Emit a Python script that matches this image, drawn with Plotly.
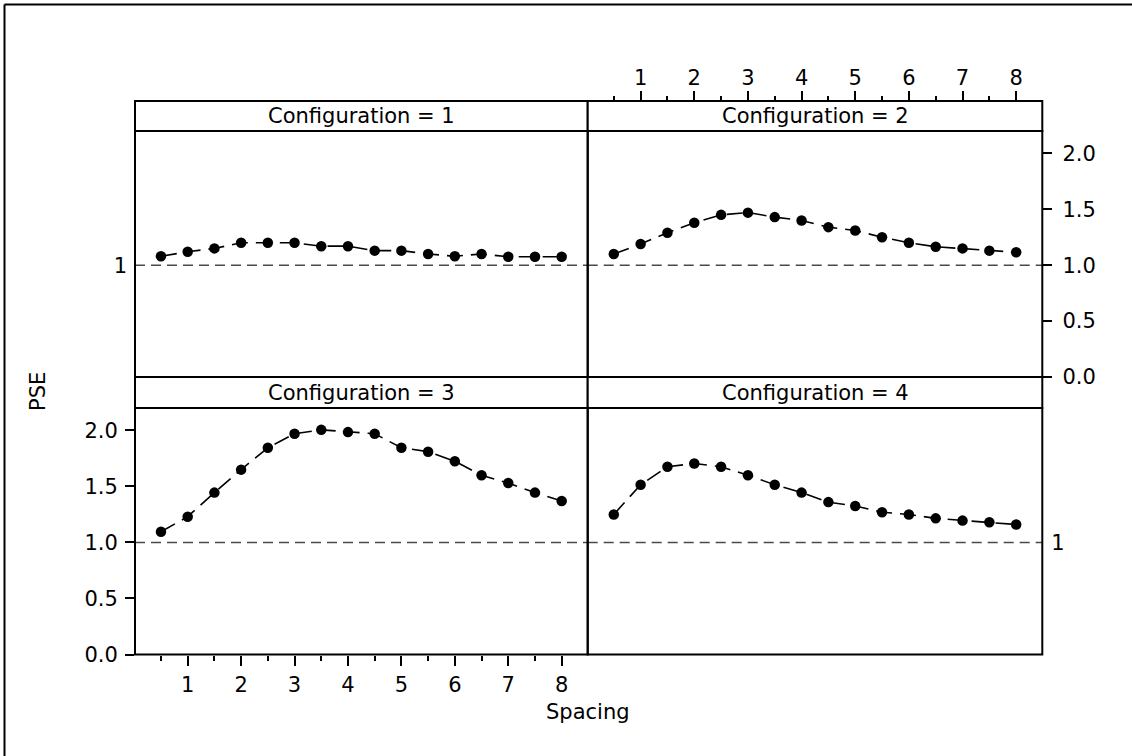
import plotly.graph_objects as go

# ---------------- data ----------------
SPACING = [0.5, 1.0, 1.5, 2.0, 2.5, 3.0, 3.5, 4.0, 4.5, 5.0, 5.5, 6.0, 6.5, 7.0, 7.5, 8.0]
PSE_CONFIG_1 = [1.08, 1.12, 1.15, 1.20, 1.20, 1.20, 1.17, 1.17, 1.13, 1.13, 1.10, 1.08, 1.10, 1.075, 1.075, 1.075]
PSE_CONFIG_2 = [1.10, 1.19, 1.29, 1.38, 1.45, 1.47, 1.43, 1.40, 1.34, 1.31, 1.25, 1.20, 1.165, 1.15, 1.13, 1.115]
PSE_CONFIG_3 = [1.095, 1.23, 1.445, 1.65, 1.845, 1.97, 2.005, 1.985, 1.97, 1.845, 1.81, 1.725, 1.60, 1.53, 1.445, 1.37]
PSE_CONFIG_4 = [1.25, 1.515, 1.675, 1.705, 1.675, 1.60, 1.515, 1.445, 1.36, 1.325, 1.27, 1.25, 1.215, 1.195, 1.18, 1.16]
STRIP_LABELS = ["Configuration = 1", "Configuration = 2", "Configuration = 3", "Configuration = 4"]
X_TICKS = [1, 2, 3, 4, 5, 6, 7, 8]
X_MINOR_TICKS = [0.5, 1.5, 2.5, 3.5, 4.5, 5.5, 6.5, 7.5, 8.5]
Y_TICKS = [0.0, 0.5, 1.0, 1.5, 2.0]
Y_TICK_TEXT = ["0.0", "0.5", "1.0", "1.5", "2.0"]
REF_LEVEL = 1.0
X_RANGE = [0.0137, 8.487]
Y_RANGE = [0.0, 2.2]

# ---------------- geometry (pixels) ----------------
W, H = 1132, 756
XL, XM, XR = 135.0, 587.7, 1042.3
STRIP_TOP_1, PANEL_TOP_1, PANEL_BOT_1 = 101.0, 131.0, 377.0
STRIP_TOP_2, PANEL_TOP_2, PANEL_BOT_2 = 377.0, 408.0, 654.5


def px(x):
    return x / W


def py(y):
    return 1 - y / H


FONT = "DejaVu Sans"
FS = 21

fig = go.Figure()

panels = [
    (PSE_CONFIG_1, "x", "y", XL, XM, STRIP_TOP_1, PANEL_TOP_1, PANEL_BOT_1),
    (PSE_CONFIG_2, "x2", "y2", XM, XR, STRIP_TOP_1, PANEL_TOP_1, PANEL_BOT_1),
    (PSE_CONFIG_3, "x3", "y3", XL, XM, STRIP_TOP_2, PANEL_TOP_2, PANEL_BOT_2),
    (PSE_CONFIG_4, "x4", "y4", XM, XR, STRIP_TOP_2, PANEL_TOP_2, PANEL_BOT_2),
]

shapes = []
annotations = []

for i, (vals, xa, ya, x0, x1, st, pt, pb) in enumerate(panels):
    fig.add_trace(go.Scatter(
        x=SPACING, y=vals, xaxis=xa, yaxis=ya, mode="lines+markers",
        line=dict(color="black", width=1.6, dash="16px,8px"),
        marker=dict(color="black", size=10.5, line=dict(width=0)),
        showlegend=False, hoverinfo="skip",
    ))
    shapes.append(dict(type="line", xref=f"{xa} domain", yref=ya, x0=0, x1=1,
                       y0=REF_LEVEL, y1=REF_LEVEL, layer="below",
                       line=dict(color="#4a4a4a", width=1.6, dash="10px,6px")))
    shapes.append(dict(type="rect", xref="paper", yref="paper",
                       x0=px(x0), x1=px(x1), y0=py(pb), y1=py(pt),
                       line=dict(color="black", width=2), layer="above"))
    shapes.append(dict(type="rect", xref="paper", yref="paper",
                       x0=px(x0), x1=px(x1), y0=py(pt), y1=py(st),
                       line=dict(color="black", width=2), fillcolor="white", layer="above"))
    annotations.append(dict(text=STRIP_LABELS[i], xref="paper", yref="paper",
                            x=px((x0 + x1) / 2), y=py((st + pt) / 2),
                            xanchor="center", yanchor="middle", showarrow=False,
                            font=dict(family=FONT, size=FS, color="black")))

# outer frame (only its top & left edges fall inside the picture)
shapes.append(dict(type="line", xref="paper", yref="paper", x0=px(4.5), x1=px(W + 10),
                   y0=py(4.5), y1=py(4.5), line=dict(color="black", width=2)))
shapes.append(dict(type="line", xref="paper", yref="paper", x0=px(4.5), x1=px(4.5),
                   y0=py(4.5), y1=py(H + 10), line=dict(color="black", width=2)))

annotations.append(dict(text="Spacing", xref="paper", yref="paper", x=px(588), y=py(712),
                        xanchor="center", yanchor="middle", showarrow=False,
                        font=dict(family=FONT, size=FS, color="black")))
annotations.append(dict(text="PSE", xref="paper", yref="paper", x=px(38), y=py(392),
                        xanchor="center", yanchor="middle", showarrow=False, textangle=-90,
                        font=dict(family=FONT, size=FS, color="black")))

tickfont = dict(family=FONT, size=FS, color="black")
base_x = dict(range=X_RANGE, showgrid=False, zeroline=False, showline=False, fixedrange=True,
              automargin=False)
base_y = dict(range=Y_RANGE, showgrid=False, zeroline=False, showline=False, fixedrange=True,
              automargin=False)

fig.update_layout(
    width=W, height=H, autosize=False,
    margin=dict(l=0, r=0, t=0, b=0, pad=0, autoexpand=False),
    paper_bgcolor="white", plot_bgcolor="white",
    shapes=shapes, annotations=annotations,
    xaxis=dict(base_x, domain=[px(XL), px(XM)], anchor="y", showticklabels=False, ticks=""),
    yaxis=dict(base_y, domain=[py(PANEL_BOT_1), py(PANEL_TOP_1)], anchor="x", side="left",
               tickmode="array", tickvals=[REF_LEVEL], ticktext=["1"], ticks="",
               ticklabelstandoff=7, tickfont=tickfont),
    xaxis2=dict(base_x, domain=[px(XM), px(XR)], anchor="free", position=py(STRIP_TOP_1),
                side="top", tickmode="array", tickvals=X_TICKS, ticktext=[str(v) for v in X_TICKS],
                ticks="outside", ticklen=10, tickwidth=1.5, tickcolor="black", tickfont=tickfont,
                ticklabelstandoff=-2,
                minor=dict(tickmode="array", tickvals=X_MINOR_TICKS, ticks="outside", ticklen=5,
                           tickwidth=1.5, tickcolor="black")),
    yaxis2=dict(base_y, domain=[py(PANEL_BOT_1), py(PANEL_TOP_1)], anchor="x2", side="right",
                tickmode="array", tickvals=Y_TICKS, ticktext=Y_TICK_TEXT,
                ticks="outside", ticklen=9, tickwidth=1.5, tickcolor="black", tickfont=tickfont,
                ticklabelstandoff=6),
    xaxis3=dict(base_x, domain=[px(XL), px(XM)], anchor="y3", side="bottom",
                tickmode="array", tickvals=X_TICKS, ticktext=[str(v) for v in X_TICKS],
                ticks="outside", ticklen=10, tickwidth=1.5, tickcolor="black", tickfont=tickfont,
                ticklabelstandoff=1,
                minor=dict(tickmode="array", tickvals=X_MINOR_TICKS, ticks="outside", ticklen=5,
                           tickwidth=1.5, tickcolor="black")),
    yaxis3=dict(base_y, domain=[py(PANEL_BOT_2), py(PANEL_TOP_2)], anchor="x3", side="left",
                tickmode="array", tickvals=Y_TICKS, ticktext=Y_TICK_TEXT,
                ticks="outside", ticklen=9, tickwidth=1.5, tickcolor="black", tickfont=tickfont,
                ticklabelstandoff=3),
    xaxis4=dict(base_x, domain=[px(XM), px(XR)], anchor="y4", showticklabels=False, ticks=""),
    yaxis4=dict(base_y, domain=[py(PANEL_BOT_2), py(PANEL_TOP_2)], anchor="x4", side="right",
                tickmode="array", tickvals=[REF_LEVEL], ticktext=["1"], ticks="",
                ticklabelstandoff=8, tickfont=tickfont),
)

fig.write_html("out.html", config={"displayModeBar": False},
               post_script="document.body.style.margin='0';document.body.style.overflow='hidden';")
